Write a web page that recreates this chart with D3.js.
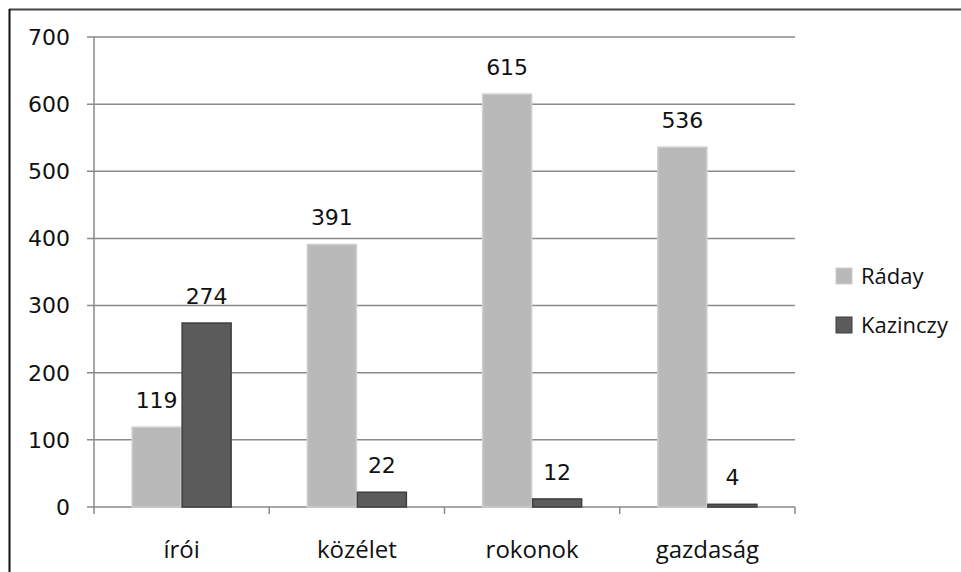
<!DOCTYPE html>
<html>
<head>
<meta charset="utf-8">
<script src="https://cdn.jsdelivr.net/npm/d3@7"></script>
<style>
  body { margin: 0; background: #fff; }
</style>
</head>
<body>
<div id="mount"></div>
<script>
'use strict';

// chart data
const categories = ['írói', 'közélet', 'rokonok', 'gazdaság'];
const seriesNames = ['Ráday', 'Kazinczy'];
const radayValues = [119, 391, 615, 536];
const kazinczyValues = [274, 22, 12, 4];
const yTicks = [0, 100, 200, 300, 400, 500, 600, 700];

const fills = ['#b9b9b9', '#5b5b5b'];
const strokes = ['#cfcfcf', '#3f3f3f'];

const W = 961, H = 572;
const plot = { left: 94, right: 795, top: 37, bottom: 507 };

const svg = d3.select('#mount').append('svg')
    .attr('width', W)
    .attr('height', H)
    .style('display', 'block');

// outer frame (only top and left edges visible in the picture)
svg.append('line')
    .attr('x1', 9).attr('x2', W).attr('y1', 9.5).attr('y2', 9.5)
    .attr('stroke', '#444').attr('stroke-width', 2);
svg.append('line')
    .attr('x1', 9.5).attr('x2', 9.5).attr('y1', 9).attr('y2', H)
    .attr('stroke', '#111').attr('stroke-width', 2);

const x = d3.scaleBand()
    .domain(categories)
    .range([plot.left, plot.right]);

const xInner = d3.scaleBand()
    .domain(seriesNames)
    .range([0, 100]);

const y = d3.scaleLinear()
    .domain([0, 700])
    .range([plot.bottom, plot.top]);

const numFont = '"DejaVu Sans", Verdana, sans-serif';
const textFont = '"Open Sans", "Noto Sans", sans-serif';

// horizontal gridlines + y tick marks
svg.append('g')
  .selectAll('line')
    .data(yTicks)
  .enter().append('line')
    .attr('x1', plot.left - 7)
    .attr('x2', plot.right)
    .attr('y1', d => y(d))
    .attr('y2', d => y(d))
    .attr('stroke', '#8a8a8a')
    .attr('stroke-width', 1.5);

// y tick labels
svg.append('g')
  .selectAll('text')
    .data(yTicks)
  .enter().append('text')
    .attr('x', 70)
    .attr('y', d => y(d))
    .attr('dy', '0.36em')
    .attr('text-anchor', 'end')
    .style('font-family', numFont)
    .style('font-size', '22px')
    .style('fill', '#111')
    .text(d => d);

// vertical axis line
svg.append('line')
    .attr('x1', plot.left).attr('x2', plot.left)
    .attr('y1', plot.top).attr('y2', plot.bottom + 7)
    .attr('stroke', '#8a8a8a').attr('stroke-width', 1.5);

// category tick marks at band boundaries
const boundaries = categories.map(c => x(c) + x.bandwidth());
svg.append('g')
  .selectAll('line')
    .data(boundaries)
  .enter().append('line')
    .attr('x1', d => d).attr('x2', d => d)
    .attr('y1', plot.bottom).attr('y2', plot.bottom + 7)
    .attr('stroke', '#8a8a8a').attr('stroke-width', 1.5);

// bars
const rows = categories.map((c, i) => ({
  cat: c,
  vals: [radayValues[i], kazinczyValues[i]]
}));

const groups = svg.append('g')
  .selectAll('g')
    .data(rows)
  .enter().append('g')
    .attr('transform', d => `translate(${x(d.cat) + (x.bandwidth() - 100) / 2}, 0)`);

groups.selectAll('rect')
    .data(d => d.vals.map((v, k) => ({ v, k })))
  .enter().append('rect')
    .attr('x', d => xInner(seriesNames[d.k]) + 0.5)
    .attr('width', xInner.bandwidth() - 1)
    .attr('y', d => y(d.v))
    .attr('height', d => y(0) - y(d.v))
    .attr('fill', d => fills[d.k])
    .attr('stroke', d => strokes[d.k])
    .attr('stroke-width', 1.5);

// value labels
groups.selectAll('text')
    .data(d => d.vals.map((v, k) => ({ v, k })))
  .enter().append('text')
    .attr('x', d => xInner(seriesNames[d.k]) + xInner.bandwidth() / 2)
    .attr('y', d => y(d.v) - 19)
    .attr('text-anchor', 'middle')
    .style('font-family', numFont)
    .style('font-size', '22px')
    .style('fill', '#111')
    .text(d => d.v);

// category labels
svg.append('g')
  .selectAll('text')
    .data(categories)
  .enter().append('text')
    .attr('x', d => x(d) + x.bandwidth() / 2)
    .attr('y', 558)
    .attr('text-anchor', 'middle')
    .style('font-family', textFont)
    .style('font-size', '24px')
    .style('fill', '#111')
    .text(d => d);

// legend
const legend = svg.append('g')
  .selectAll('g')
    .data(seriesNames)
  .enter().append('g')
    .attr('transform', (d, i) => `translate(836, ${276 + i * 49})`);

legend.append('rect')
    .attr('x', 0).attr('y', -8)
    .attr('width', 16).attr('height', 16)
    .attr('fill', (d, i) => fills[i])
    .attr('stroke', (d, i) => strokes[i]);

legend.append('text')
    .attr('x', 25)
    .attr('dy', '0.36em')
    .style('font-family', textFont)
    .style('font-size', '22px')
    .style('fill', '#111')
    .text(d => d);
</script>
</body>
</html>
